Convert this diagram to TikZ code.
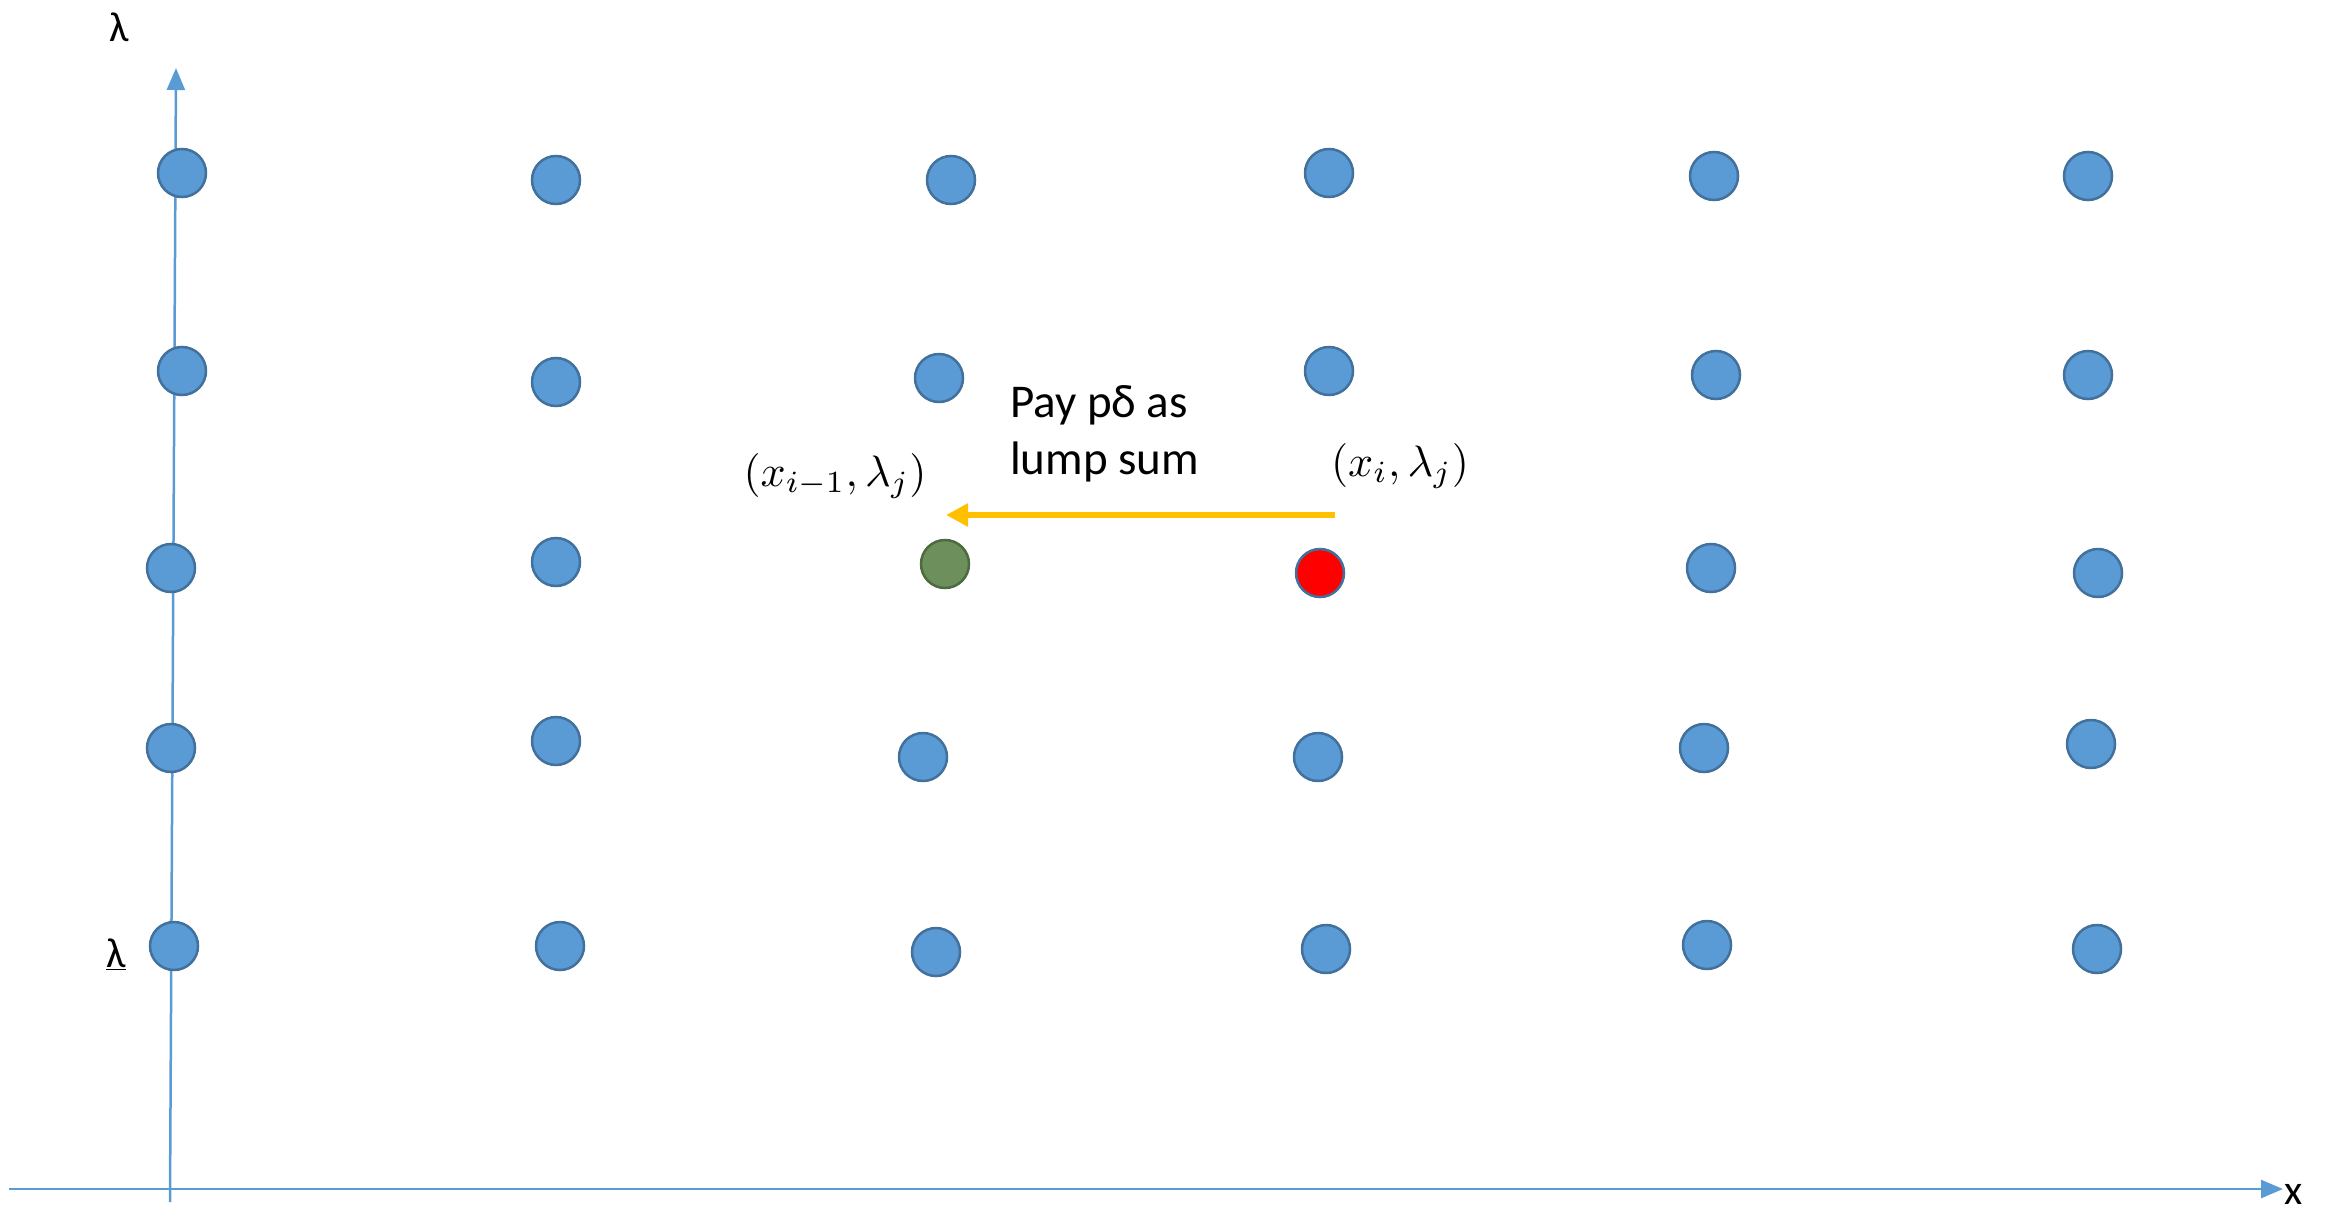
\documentclass[tikz,border=0pt]{standalone}
\usepackage{graphicx}
\usepackage{fontspec}
\setmainfont{Carlito}
\usetikzlibrary{arrows.meta}
\definecolor{dotblue}{HTML}{5B9BD5}
\definecolor{dotedge}{HTML}{41719C}
\definecolor{dotgreen}{HTML}{6C8F5C}
\definecolor{greenedge}{HTML}{4E6B40}
\definecolor{arrowgold}{HTML}{FFC000}
\begin{document}
\begin{tikzpicture}[x=1pt,y=-1pt,
  dot/.style={circle,minimum size=48pt,inner sep=0pt,fill=dotblue,draw=dotedge,line width=2.5pt},
  greendot/.style={dot,fill=dotgreen,draw=greenedge},
  reddot/.style={dot,fill=red,draw=dotedge},
  axis/.style={draw=dotblue,line width=2.5pt,-{Triangle[length=22pt,width=18pt]}},
  lbl/.style={font=\fontsize{42}{52}\selectfont,inner sep=0pt},
  paylbl/.style={font=\fontsize{47}{57}\selectfont,inner sep=0pt},
  mlbl/.style={inner sep=0pt}]
\useasboundingbox (0,0) rectangle (2333,1212);
% axes
\coordinate (vs) at (170,1202);
\coordinate (ve) at (176,68);
\coordinate (hs) at (9,1189);
\coordinate (he) at (2283,1189);
\draw[axis] (vs) -- (ve);
\draw[axis] (hs) -- (he);
% dots row 1
\node[dot] (d11) at (182,173) {};
\node[dot] (d12) at (556,180) {};
\node[dot] (d13) at (951,180) {};
\node[dot] (d14) at (1329,173) {};
\node[dot] (d15) at (1714,176) {};
\node[dot] (d16) at (2088,176) {};
% row 2
\node[dot] (d21) at (182,371) {};
\node[dot] (d22) at (556,382) {};
\node[dot] (d23) at (939,378) {};
\node[dot] (d24) at (1329,371) {};
\node[dot] (d25) at (1716,375) {};
\node[dot] (d26) at (2088,375) {};
% row 3
\node[dot] (d31) at (171,568) {};
\node[dot] (d32) at (556,562) {};
\node[greendot] (d33) at (945,564) {};
\node[reddot] (d34) at (1320,573) {};
\node[dot] (d35) at (1711,568) {};
\node[dot] (d36) at (2098,573) {};
% row 4
\node[dot] (d41) at (171,748) {};
\node[dot] (d42) at (556,741) {};
\node[dot] (d43) at (923,757) {};
\node[dot] (d44) at (1318,757) {};
\node[dot] (d45) at (1704,748) {};
\node[dot] (d46) at (2091,744) {};
% row 5
\node[dot] (d51) at (174,946) {};
\node[dot] (d52) at (560,946) {};
\node[dot] (d53) at (936,952) {};
\node[dot] (d54) at (1326,949) {};
\node[dot] (d55) at (1707,945) {};
\node[dot] (d56) at (2097,949) {};
% labels
\node[lbl] (lamtop) at (119,27) {λ};
\node[lbl,anchor=base] (xlab) at (2294,1204) {x};
\node[lbl] (lamlow) at (116,954) {\underline{λ}};
\node[paylbl,align=left,anchor=west] (pay) at (1010,434) {Pay pδ as\\lump sum};
\node[mlbl] (prev) at (835,476) {\scalebox{4.4}{$(x_{i-1},\lambda_j)$}};
\node[mlbl] (cur) at (1400,466) {\scalebox{4.4}{$(x_i,\lambda_j)$}};
% arrow
\coordinate (as) at (1335,515);
\coordinate (ae) at (946,515);
\draw[draw=arrowgold,line width=6pt,-{Triangle[length=22pt,width=22pt]}] (as) -- (ae);
\end{tikzpicture}
\end{document}
